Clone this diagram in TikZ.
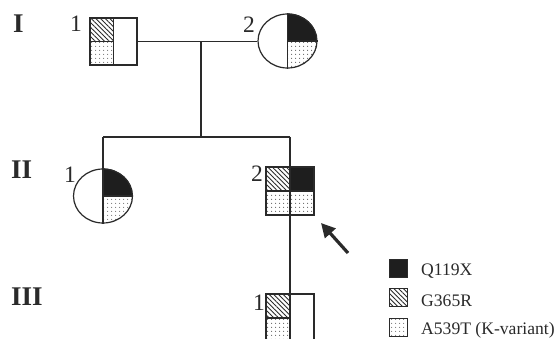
\documentclass[tikz,border=0pt]{standalone}
\usepackage{fontspec}
\setmainfont{Liberation Serif}
\usetikzlibrary{patterns.meta,shapes.geometric,arrows.meta,backgrounds}
\definecolor{ink}{HTML}{2A2A2A}
\definecolor{solid}{HTML}{1E1E1E}
\tikzset{
  rel/.style={draw=ink, line width=1.1pt},
  sq/.style={draw=ink, line width=1.2pt, rectangle, minimum size=47pt, inner sep=0pt},
  ell/.style={draw=ink, line width=1.2pt, ellipse, minimum width=59pt, minimum height=54pt, inner sep=0pt},
  keybox/.style={draw=ink, line width=0.8pt, rectangle, minimum size=18pt, inner sep=0pt},
  darkq/.style={fill=solid},
  hatchq/.style={pattern={Lines[angle=-45, distance=3.3pt, line width=0.9pt]}, pattern color=ink},
  dotq/.style={pattern={Dots[distance=4pt, radius=0.6pt]}, pattern color=ink},
  gen/.style={font=\fontsize{27}{27}\selectfont\bfseries, text=ink, inner sep=0pt, anchor=base west},
  idx/.style={font=\fontsize{23.5}{24}\selectfont, text=ink, inner sep=0pt, anchor=base east},
  keytext/.style={font=\fontsize{17.6}{18}\selectfont, text=ink, inner sep=0pt, anchor=base west},
}
\begin{document}
\begin{tikzpicture}[x=1pt, y=1pt]
\useasboundingbox (0,0) rectangle (555,338);
\clip (0,0) rectangle (555,338);

% generation numerals
\node[gen] (g1) at (13,305) {I};
\node[gen] (g2) at (11,159) {II};
\node[gen] (g3) at (11,33) {III};

% individuals
\node[sq] (i1) at (113.5,296.5) {};
\node[ell] (i2) at (287.5,297) {};
\node[ell] (ii1) at (103,142) {};
\node[sq, minimum size=48pt] (ii2) at (290,147) {};
\node[sq, minimum size=48pt] (iii1) at (290,20) {};

% individual numbers
\node[idx] (n11) at (82,306) {1};
\node[idx] (n12) at (255,305) {2};
\node[idx] (n21) at (76,155) {1};
\node[idx] (n22) at (263,157) {2};
\node[idx] (n31) at (265,28) {1};

% page and genotype quarters, beneath the outlines
\begin{scope}[on background layer]
  \fill[white] (0,0) rectangle (555,338);
  \fill[hatchq] (i1.north west) rectangle (i1.center);
  \fill[dotq] (i1.west) rectangle (i1.south);
  \fill[darkq] (i2.center) -- (i2.north) arc[start angle=90, end angle=0, x radius=29.5pt, y radius=27pt] -- cycle;
  \fill[dotq] (i2.center) -- (i2.east) arc[start angle=0, end angle=-90, x radius=29.5pt, y radius=27pt] -- cycle;
  \fill[darkq] (ii1.center) -- (ii1.north) arc[start angle=90, end angle=0, x radius=29.5pt, y radius=27pt] -- cycle;
  \fill[dotq] (ii1.center) -- (ii1.east) arc[start angle=0, end angle=-90, x radius=29.5pt, y radius=27pt] -- cycle;
  \fill[hatchq] (ii2.north west) rectangle (ii2.center);
  \fill[darkq] (ii2.north) rectangle (ii2.east);
  \fill[dotq] (ii2.west) rectangle (ii2.south east);
  \fill[hatchq] (iii1.north west) rectangle (iii1.center);
  \fill[dotq] (iii1.west) rectangle (iii1.south);
\end{scope}

% quarter dividers
\draw[rel] (i1.north) -- (i1.south) (i1.west) -- (i1.center);
\draw[rel] (i2.north) -- (i2.south) (i2.center) -- (i2.east);
\draw[rel] (ii1.north) -- (ii1.south) (ii1.center) -- (ii1.east);
\draw[rel] (ii2.north) -- (ii2.south) (ii2.west) -- (ii2.east);
\draw[rel] (iii1.north) -- (iii1.south) (iii1.west) -- (iii1.center);

% mating, descent and sibship lines
\coordinate (d1) at (201,296.5);
\coordinate (d2) at (201,201);
\coordinate (s1) at (ii1.north |- d2);
\coordinate (s2) at (ii2.north |- d2);
\draw[rel] (i1.east) -- (i1.east -| i2.west);
\draw[rel] (d1) -- (d2);
\draw[rel] (s1) -- (s2);
\draw[rel] (s1) -- (ii1.north);
\draw[rel] (s2) -- (ii2.north);
\draw[rel] (ii2.south) -- (iii1.north);

% proband arrow
\coordinate (pa) at (348,85);
\coordinate (pb) at (321,115);
\draw[draw=ink, line width=3.2pt, -{Triangle[length=14pt, width=14pt]}] (pa) -- (pb);

% key
\node[keybox, fill=solid] (kq) at (398,70) {};
\node[keybox, hatchq] (kg) at (398,41) {};
\node[keybox, dotq] (ka) at (398,11) {};
\node[keytext] (tq) at (421,63) {Q119X};
\node[keytext] (tg) at (421,32) {G365R};
\node[keytext] (ta) at (421,4) {A539T (K-variant)};
\end{tikzpicture}
\end{document}
